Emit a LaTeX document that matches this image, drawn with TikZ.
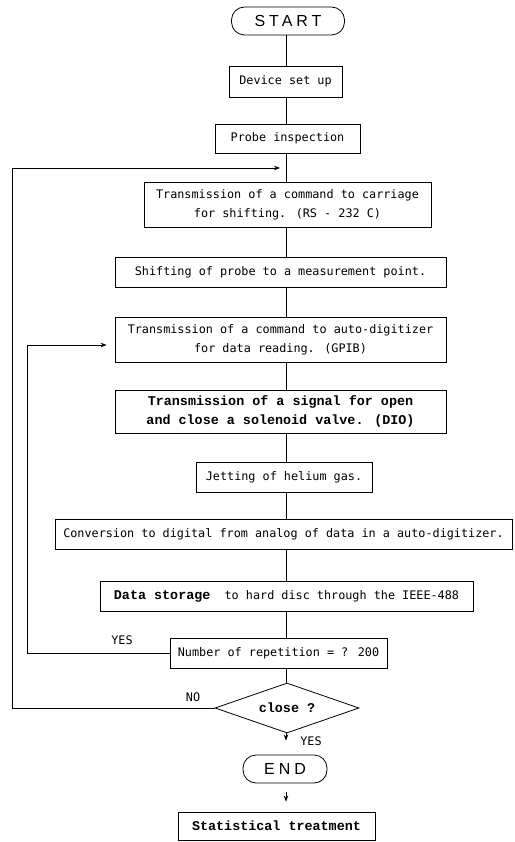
\documentclass[tikz,border=0pt]{standalone}
\usepackage{fontspec}
\usetikzlibrary{shapes.geometric,arrows.meta}
\newfontfamily\boxfont{DejaVu Sans Mono}
\newfontfamily\heavyfont{Liberation Mono}
\newfontfamily\termfont[LetterSpace=25]{Liberation Sans}
\newcommand{\plainfnt}{\boxfont\fontsize{11.8}{19}\selectfont}
\newcommand{\heavyfnt}{\heavyfont\bfseries\fontsize{13.4}{19}\selectfont}
\tikzset{
  flowbox/.style={draw, line width=0.8pt, inner sep=0pt, align=center, font=\plainfnt},
  heavybox/.style={flowbox, font=\heavyfnt},
  termbox/.style={draw, line width=0.8pt, rounded corners=13pt, inner sep=0pt, font=\termfont\fontsize{16}{18}\selectfont},
  askbox/.style={draw, diamond, aspect=2.9, line width=0.8pt, inner sep=0pt, font=\heavyfnt},
  flowline/.style={line width=0.8pt},
  loopline/.style={line width=0.8pt, -{Stealth[length=6pt,width=4.5pt]}},
  answer/.style={font=\plainfnt}
}
\begin{document}
\begin{tikzpicture}[x=1pt,y=-1pt]
\useasboundingbox (0,0) rectangle (514,842);
\coordinate (spine) at (286,0);

\node[termbox, minimum width=113pt, minimum height=28pt] (start) at (288,21) {START};
\node[flowbox, minimum width=113pt, minimum height=31pt] (setup) at (285.5,81.5) {Device set up};
\node[flowbox, minimum width=145pt, minimum height=29pt] (probe) at (287.5,138.5) {Probe inspection};
\node[flowbox, minimum width=287pt, minimum height=45pt] (carriage) at (287.5,204.5) {Transmission of a command to carriage\\for shifting. (RS - 232 C)};
\node[flowbox, minimum width=331pt, minimum height=30pt] (shift) at (280.5,272.5) {Shifting of probe to a measurement point.};
\node[flowbox, minimum width=331pt, minimum height=45pt] (digit) at (280.5,339.5) {Transmission of a command to auto-digitizer\\for data reading. (GPIB)};
\node[heavybox, minimum width=331pt, minimum height=43pt] (valve) at (280.5,411.5) {Transmission of a signal for open\\and close a solenoid valve. (DIO)};
\node[flowbox, minimum width=176pt, minimum height=30pt] (jet) at (284,477) {Jetting of helium gas.};
\node[flowbox, minimum width=457pt, minimum height=30pt] (conv) at (283.5,534) {Conversion to digital from analog of data in a auto-digitizer.};
\node[flowbox, minimum width=373pt, minimum height=30pt] (store) at (286.5,596) {{\heavyfnt Data storage}~~to hard disc through the IEEE-488};
\node[flowbox, minimum width=217pt, minimum height=30pt] (count) at (278.5,653) {Number of repetition = ? 200};
\node[askbox, minimum width=144pt, minimum height=50pt] (ask) at (287,708) {close ?};
\node[termbox, minimum width=84pt, minimum height=28pt] (end) at (285,769) {END};
\node[heavybox, minimum width=197pt, minimum height=28pt] (stat) at (276.5,826) {Statistical treatment};

\node[answer] (yesa) at (122,640) {YES};
\node[answer] (noa) at (193,697) {NO};
\node[answer] (yesb) at (311,741) {YES};

% main line
\draw[flowline] (start.south -| spine) -- (setup.north -| spine);
\draw[flowline] (setup.south -| spine) -- (probe.north -| spine);
\draw[flowline] (probe.south -| spine) -- (carriage.north -| spine);
\draw[flowline] (carriage.south -| spine) -- (shift.north -| spine);
\draw[flowline] (shift.south -| spine) -- (digit.north -| spine);
\draw[flowline] (digit.south -| spine) -- (valve.north -| spine);
\draw[flowline] (valve.south -| spine) -- (jet.north -| spine);
\draw[flowline] (jet.south -| spine) -- (conv.north -| spine);
\draw[flowline] (conv.south -| spine) -- (store.north -| spine);
\draw[flowline] (store.south -| spine) -- (count.north -| spine);
\draw[flowline] (count.south -| spine) -- (ask.north -| spine);
\draw[loopline, shorten >=14pt] (ask.south -| spine) -- (end.north -| spine);
\draw[loopline, shorten <=9pt, shorten >=10pt] (end.south -| spine) -- (stat.north -| spine);

% loops back
\coordinate (loopa) at (12,168);
\coordinate (loopb) at (27,345);
\draw[loopline, shorten >=8pt] (count.west) -- (count.west -| loopb) -- (loopb) -- (loopb -| digit.west);
\draw[loopline, shorten >=6pt] (ask.west) -- (ask.west -| loopa) -- (loopa) -- (loopa -| spine);
\end{tikzpicture}
\end{document}
